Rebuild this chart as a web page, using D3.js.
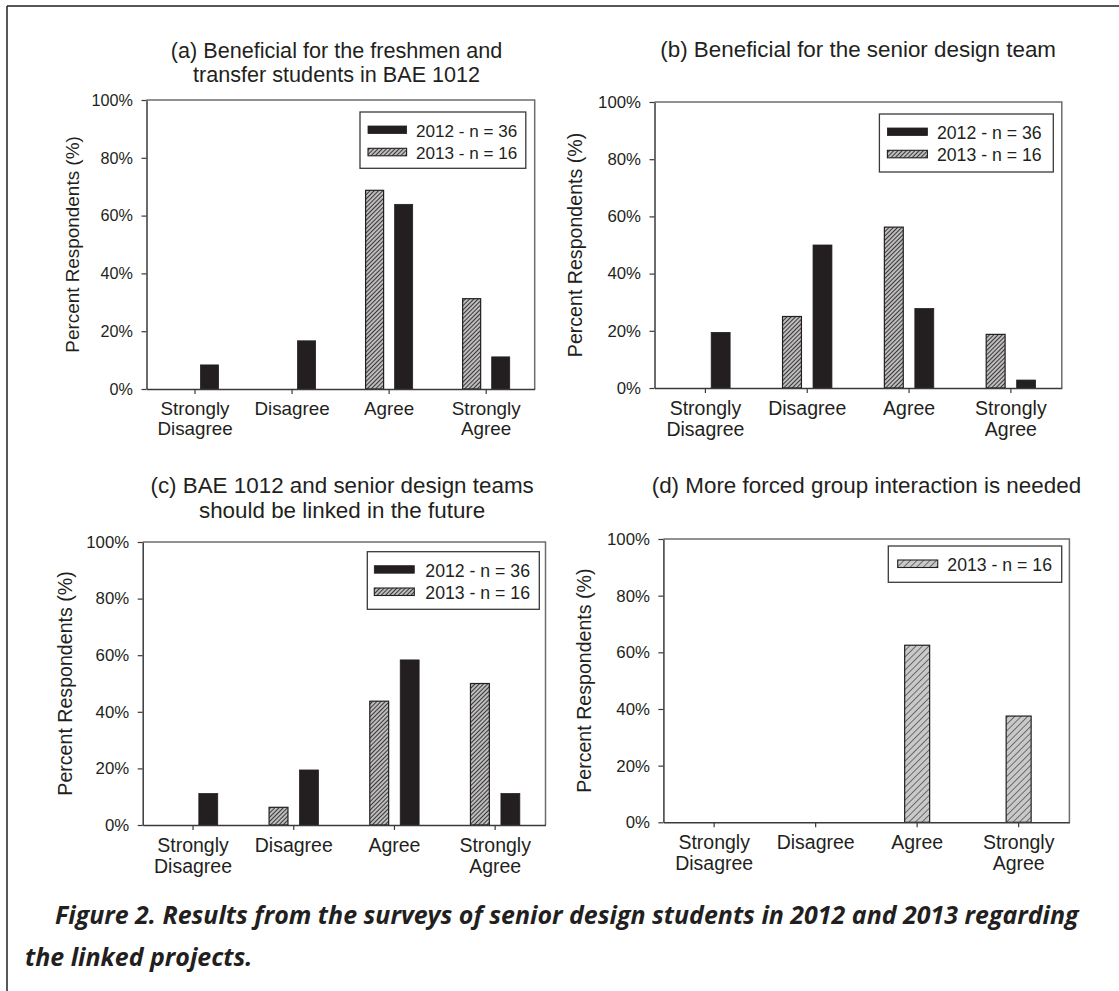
<!DOCTYPE html>
<html>
<head>
<meta charset="utf-8">
<script src="https://cdn.jsdelivr.net/npm/d3@7"></script>
<style>
  html, body { margin: 0; padding: 0; background: #fff; }
  svg { display: block; }
</style>
</head>
<body>
<script>
// ---------------- data ----------------
const categories = ["Strongly Disagree", "Disagree", "Agree", "Strongly Agree"];
const categoryLines = [["Strongly", "Disagree"], ["Disagree"], ["Agree"], ["Strongly", "Agree"]];
const seriesKeys = ["2013", "2012"];               // bar order inside a group (left to right)
const legendLabel2012 = "2012 - n = 36";
const legendLabel2013 = "2013 - n = 16";
const yTicks = [0, 20, 40, 60, 80, 100];
const yTickLabels = ["0%", "20%", "40%", "60%", "80%", "100%"];
const yAxisTitle = "Percent Respondents (%)";

const titleA = ["(a) Beneficial for the freshmen and", "transfer students in BAE 1012"];
const titleB = ["(b) Beneficial for the senior design team"];
const titleC = ["(c) BAE 1012 and senior design teams", "should be linked in the future"];
const titleD = ["(d) More forced group interaction is needed"];

const a2012 = [8.33, 16.67, 63.89, 11.11];
const a2013 = [0, 0, 68.75, 31.25];
const b2012 = [19.44, 50.0, 27.78, 2.78];
const b2013 = [0, 25.0, 56.25, 18.75];
const c2012 = [11.11, 19.44, 58.33, 11.11];
const c2013 = [0, 6.25, 43.75, 50.0];
const d2013 = [0, 0, 62.5, 37.5];

const captionLines = [
  "Figure 2. Results from the surveys of senior design students in 2012 and 2013 regarding",
  "the linked projects."
];

// ---------------- drawing ----------------
const W = 1119, H = 991;
const FONT = '"Liberation Sans", Arial, Helvetica, sans-serif';
const INK = "#231f20";

const svg = d3.select("body").append("svg").attr("width", W).attr("height", H);
const defs = svg.append("defs");

function hatch(id, size, bg, lw) {
  const p = defs.append("pattern").attr("id", id)
    .attr("patternUnits", "userSpaceOnUse")
    .attr("width", size).attr("height", size)
    .attr("patternTransform", "rotate(45)");
  p.append("rect").attr("width", size).attr("height", size).attr("fill", bg);
  p.append("line").attr("x1", 0).attr("y1", 0).attr("x2", 0).attr("y2", size)
    .attr("stroke", INK).attr("stroke-width", lw);
}
hatch("hatchDense", 3, "#bdbdbd", 1.7);
hatch("hatchWide", 4.6, "#c9c9c9", 1.1);

// outer frame (top & left visible)
svg.append("line").attr("x1", 7).attr("y1", 6).attr("x2", W).attr("y2", 6)
  .attr("stroke", INK).attr("stroke-width", 1.5);
svg.append("line").attr("x1", 7).attr("y1", 6).attr("x2", 7).attr("y2", H)
  .attr("stroke", INK).attr("stroke-width", 1.5);

function drawPanel(cfg) {
  const g = svg.append("g");
  const s = cfg.s;
  const x = d3.scaleBand().domain(categories).range([cfg.x0, cfg.x1]).paddingInner(0).paddingOuter(0);
  const y = d3.scaleLinear().domain([0, 100]).range([cfg.y1, cfg.y0]);
  const keys = cfg.series.map(d => d.key);
  const gw = x.bandwidth() * cfg.groupRatio;
  const inner = d3.scaleBand().domain(keys).range([-gw / 2, gw / 2])
    .paddingInner(keys.length > 1 ? 0.38 : 0).paddingOuter(0);

  // title
  cfg.title.forEach((t, i) => {
    g.append("text").attr("x", (cfg.x0 + cfg.x1) / 2 + cfg.titleDx).attr("y", cfg.titleY[i])
      .attr("text-anchor", "middle").attr("font-family", FONT)
      .attr("font-size", 22.4 * s).attr("fill", INK).text(t);
  });

  // bars
  cfg.series.forEach(ser => {
    g.append("g").selectAll("rect")
      .data(categories.map((c, i) => ({ c, v: ser.values[i] })).filter(d => d.v > 0))
      .join("rect")
      .attr("x", d => x(d.c) + x.bandwidth() / 2 + inner(ser.key))
      .attr("width", inner.bandwidth())
      .attr("y", d => y(d.v))
      .attr("height", d => y(0) - y(d.v))
      .attr("fill", ser.fill)
      .attr("stroke", INK).attr("stroke-width", ser.key === "2012" ? 0.8 : 1.2);
  });

  // frame top/right
  g.append("path")
    .attr("d", `M${cfg.x0},${cfg.y0}H${cfg.x1}V${cfg.y1}`)
    .attr("fill", "none").attr("stroke", "#6d6d6d").attr("stroke-width", 1.5);

  // y axis
  const ya = g.append("g").attr("transform", `translate(${cfg.x0},0)`)
    .call(d3.axisLeft(y).tickValues(yTicks).tickFormat((d, i) => yTickLabels[i])
      .tickSize(5).tickSizeOuter(0).tickPadding(8.5));
  ya.select(".domain").attr("stroke", "#3a3a3a").attr("stroke-width", 1.5);
  ya.selectAll(".tick line").attr("stroke", "#3a3a3a").attr("stroke-width", 1.2);
  ya.selectAll(".tick text").attr("font-family", FONT).attr("font-size", 16.8 * s).attr("fill", INK);

  // x axis
  const xa = g.append("g").attr("transform", `translate(0,${cfg.y1})`)
    .call(d3.axisBottom(x).tickSize(5).tickSizeOuter(0).tickFormat(""));
  xa.select(".domain").attr("stroke", "#3a3a3a").attr("stroke-width", 1.5);
  xa.selectAll(".tick line").attr("stroke", "#3a3a3a").attr("stroke-width", 1.2);
  categories.forEach((c, i) => {
    const t = g.append("text").attr("x", x(c) + x.bandwidth() / 2).attr("y", cfg.y1 + 27 * s)
      .attr("text-anchor", "middle").attr("font-family", FONT)
      .attr("font-size", 19.5 * s).attr("fill", INK);
    categoryLines[i].forEach((ln, j) => {
      t.append("tspan").attr("x", x(c) + x.bandwidth() / 2).attr("dy", j === 0 ? 0 : 21 * s).text(ln);
    });
  });

  // y title
  const cy = (cfg.y0 + cfg.y1) / 2;
  const tx = cfg.x0 - cfg.yTitleOff;
  g.append("text").attr("transform", `translate(${tx},${cy}) rotate(-90)`)
    .attr("text-anchor", "middle").attr("dy", "0.35em")
    .attr("font-family", FONT).attr("font-size", 19.6 * s).attr("fill", INK).text(yAxisTitle);

  // legend
  const L = cfg.legend;
  const lx = cfg.x1 - L.dx, ly = cfg.y0 + L.dy;
  g.append("rect").attr("x", lx).attr("y", ly).attr("width", L.w).attr("height", L.h)
    .attr("fill", "#fff").attr("stroke", "#3a3a3a").attr("stroke-width", 1.3);
  cfg.legendItems.forEach((it, i) => {
    const rowY = ly + 14 + i * 22.3;
    g.append("rect").attr("x", lx + L.sw).attr("y", rowY).attr("width", 40 * s).attr("height", 7.5)
      .attr("fill", it.fill).attr("stroke", INK).attr("stroke-width", it.key === "2012" ? 0.8 : 1.1);
    g.append("text").attr("x", lx + L.tx).attr("y", rowY + 10.8)
      .attr("font-family", FONT).attr("font-size", 17.7 * s).attr("fill", INK).text(it.label);
  });
}

const s2012 = { key: "2012", fill: INK };
drawPanel({
  x0: 146.5, x1: 534.7, y0: 100, y1: 389, s: 0.965, groupRatio: 0.485,
  title: titleA, titleY: [58.3, 81.7], titleDx: -4, yTitleOff: 74,
  series: [{ key: "2013", values: a2013, fill: "url(#hatchDense)" }, Object.assign({ values: a2012 }, s2012)],
  legend: { dx: 174.7, dy: 12, w: 165.8, h: 56.3, sw: 8, tx: 56 },
  legendItems: [{ key: "2012", label: legendLabel2012, fill: INK }, { key: "2013", label: legendLabel2013, fill: "url(#hatchDense)" }]
});
drawPanel({
  x0: 654.5, x1: 1061.8, y0: 102, y1: 388, s: 1, groupRatio: 0.485,
  title: titleB, titleY: [57], titleDx: 0, yTitleOff: 79,
  series: [{ key: "2013", values: b2013, fill: "url(#hatchDense)" }, Object.assign({ values: b2012 }, s2012)],
  legend: { dx: 182.4, dy: 12, w: 173.9, h: 58, sw: 8, tx: 57.5 },
  legendItems: [{ key: "2012", label: legendLabel2012, fill: INK }, { key: "2013", label: legendLabel2013, fill: "url(#hatchDense)" }]
});
drawPanel({
  x0: 142.7, x1: 545.5, y0: 542, y1: 825, s: 1, groupRatio: 0.49,
  title: titleC, titleY: [493, 518], titleDx: -2, yTitleOff: 78,
  series: [{ key: "2013", values: c2013, fill: "url(#hatchDense)" }, Object.assign({ values: c2012 }, s2012)],
  legend: { dx: 178.2, dy: 9.7, w: 172, h: 57.6, sw: 7, tx: 58 },
  legendItems: [{ key: "2012", label: legendLabel2012, fill: INK }, { key: "2013", label: legendLabel2013, fill: "url(#hatchDense)" }]
});
drawPanel({
  x0: 663.4, x1: 1069.4, y0: 539, y1: 822.3, s: 1, groupRatio: 0.246,
  title: titleD, titleY: [492.5], titleDx: 0, yTitleOff: 79,
  series: [{ key: "2013", values: d2013, fill: "url(#hatchWide)" }],
  legend: { dx: 181.1, dy: 7, w: 173.4, h: 36.3, sw: 9.4, tx: 59 },
  legendItems: [{ key: "2013", label: legendLabel2013, fill: "url(#hatchWide)" }]
});

// caption
const cap = svg.append("g");
const capFont = '"Open Sans", "Noto Sans", "DejaVu Sans", sans-serif';
const c1 = cap.append("text").attr("x", 55).attr("y", 923.5)
  .attr("font-family", capFont).attr("font-weight", 700).attr("font-style", "italic")
  .attr("font-size", 21).attr("fill", INK).text(captionLines[0]);
const len = c1.node().getComputedTextLength();
const fs = 21 * 1024 / len;
c1.attr("font-size", fs);
cap.append("text").attr("x", 25).attr("y", 966)
  .attr("font-family", capFont).attr("font-weight", 700).attr("font-style", "italic")
  .attr("font-size", fs).attr("fill", INK).text(captionLines[1]);
</script>
</body>
</html>
